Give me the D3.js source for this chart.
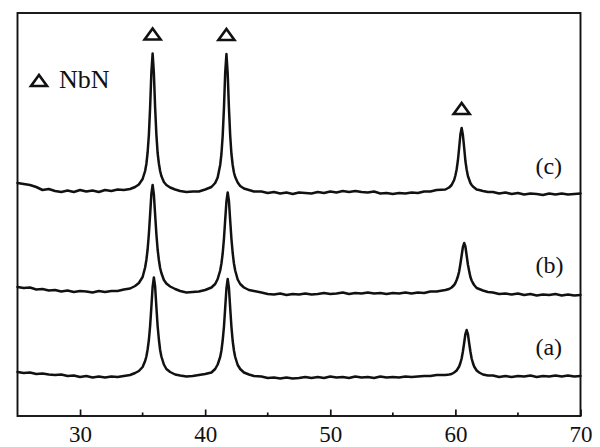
<!DOCTYPE html>
<html><head><meta charset="utf-8">
<script src="https://cdn.jsdelivr.net/npm/d3@7"></script>
<style>html,body{margin:0;padding:0;background:#fff;} svg{display:block;}</style>
</head><body>
<svg id="chart" width="600" height="447"></svg>
<script>
// 2θ (degrees) sampling grid
const twoTheta = [
  25,25.5,26,26.5,27,27.5,28,28.5,29,29.5,30,30.5,31,31.5,32,32.5,33,33.5,34,
  34.4,34.7,35.0,35.2,35.3,35.4,35.5,35.6,35.7,35.8,35.9,36.0,36.1,36.2,36.3,36.4,36.5,36.7,36.9,37.2,37.6,
  38,38.5,39,39.5,40,
  40.5,40.8,41.0,41.2,41.3,41.4,41.5,41.6,41.7,41.8,41.9,42.0,42.1,42.2,42.3,42.4,42.6,42.8,43.1,43.5,43.9,
  44.5,45,45.5,46,46.5,47,47.5,48,48.5,49,49.5,50,50.5,51,51.5,52,52.5,53,53.5,54,54.5,55,55.5,56,56.5,57,57.5,58,58.5,
  59.2,59.5,59.7,59.9,60.0,60.1,60.2,60.3,60.4,60.5,60.6,60.7,60.8,60.9,61.0,61.1,61.2,61.3,61.4,61.5,61.7,61.9,62.2,62.6,
  63,63.5,64,64.5,65,65.5,66,66.5,67,67.5,68,68.5,69,69.5,70
];
// Intensity (a.u., stacked) for each sample
const intensityA = [
  48,47,47.5,46,46.5,45.5,45,45.5,44,44.5,43,44,42.5,43.5,42.5,43.5,43,44,45,
  47,49,53,59,63.5,70.5,80,94,113,133,142.5,133.5,113,94,80.5,70,63.5,55.5,51,48,45.5,
  44.5,43.5,44,45,46,
  47.5,51,55.5,63,69.5,79.5,93,112,131.5,141,132,112,93,79,69.5,63,55,51,47.5,45.5,44,
  43.5,42,42.5,41.5,42.5,41.5,42,43,42,43,42,43.5,42.5,43,42,43.5,42.5,43,42,43.5,42.5,43,42.5,43.5,43,43.5,44,44,45,
  45,45.5,46,47.5,48.5,49.5,51.5,53.5,57,61.5,68.5,77,86,90,86,77,68.5,61.5,57,53.5,49.5,47.5,45.5,44.5,
  44.5,43,44,43,44,43.5,44.5,43,44,43.5,44.5,43.5,44.5,43.5,44
];
const intensityB = [
  133,132,132.5,130.5,131,129.5,130,128.5,129.5,128,129,128.5,127.5,129,128,129,129,130.5,131.5,
  134,137,143,152.5,160,170.5,186,205.5,226,235,225.5,205.5,186,170.5,160,152,147,140,136.5,133.5,131,
  129,127.5,128,128.5,130,
  132.5,136,141,149.5,156.5,166.5,181,200,218.5,227.5,219,199.5,181,167,156.5,149.5,140.5,136,132.5,130,129,
  127.5,126,125.5,126.5,125,126,125.5,126.5,125.5,126,127,126,126.5,127.5,126,127,126.5,127.5,126.5,127,126,127,126.5,127.5,126.5,127.5,127,128.5,128.5,
  130,131,132.5,135,137,140,143.5,148.5,156,164.5,173,177,173.5,164.5,155.5,149,143,139.5,137,135,132,131,129.5,128,
  127.5,126,126.5,125.5,126.5,125,126,124.5,125.5,125,126,124.5,125.5,124.5,125
];
const intensityC = [
  237,236,235,233,230,231,229,228,229.5,228,230,228.5,229.5,228,230,229,230.5,230,231,
  233,235.5,241,249,256,267.5,285,312.5,347.5,366.5,347,312.5,285.5,267,256.5,249,244,238,235,232.5,230.5,
  229,228,228.5,228.5,230.5,
  233,237,242.5,255,266,284,311.5,347,366,346.5,312,284.5,266,255,247.5,243,237.5,234,231.5,230,228.5,
  228.5,227,228,226.5,227.5,226,227.5,227,226.5,228,227,228.5,227.5,229,228,229,228,227.5,228.5,226.5,227,226,227,226.5,227.5,227,228.5,228.5,230,
  230.5,232.5,235,240,244.5,250.5,259.5,272,285.5,292,285,272.5,259,250.5,244,240.5,237,235,233.5,232.5,230.5,230,229,228,
  228,226.5,227.5,226,227,225.5,226.5,226,225,226.5,225.5,226.5,225.5,226,226.5
];
const seriesLabels = ["(a)", "(b)", "(c)"];
const labelTheta = 66.4;
const peakMarkers = [35.8, 41.7, 60.5];   // NbN reflections (Δ)
const legendLabel = "NbN";
const xTicks = [30, 40, 50, 60, 70];
const xMinorTicks = [35, 45, 55, 65];

const series = [intensityA, intensityB, intensityC];

const svg = d3.select("#chart");
const x = d3.scaleLinear().domain([25, 70]).range([17.5, 580.5]);
const y = d3.scaleLinear().domain([4, 407]).range([416, 13]);
const font = "'Liberation Serif','Times New Roman',serif";
const ink = "#111";

// curves
const line = d3.line().x((d, i) => x(twoTheta[i])).y(d => y(d)).curve(d3.curveLinear);
svg.append("g").selectAll("path").data(series).join("path")
  .attr("d", d => line(d))
  .attr("fill", "none").attr("stroke", ink).attr("stroke-width", 2.5)
  .attr("stroke-linejoin", "round").attr("stroke-linecap", "round");

// frame
svg.append("rect").attr("x", x(25)).attr("y", y(407)).attr("width", x(70) - x(25)).attr("height", y(4) - y(407))
  .attr("fill", "none").attr("stroke", ink).attr("stroke-width", 1.9);

// bottom axis: inward ticks
const axis = d3.axisBottom(x).tickValues(xTicks).tickSizeInner(-6.5).tickSizeOuter(0).tickFormat(d3.format("d"));
const gx = svg.append("g").attr("transform", `translate(0,${y(4)})`).call(axis);
gx.select(".domain").remove();
gx.selectAll(".tick line").attr("stroke", ink).attr("stroke-width", 1.7);
gx.selectAll(".tick text").attr("font-family", font).attr("font-size", 23).attr("fill", ink)
  .attr("y", 26).attr("dy", 0);
svg.append("g").selectAll("line").data(xMinorTicks).join("line")
  .attr("x1", d => x(d)).attr("x2", d => x(d)).attr("y1", y(4)).attr("y2", y(4) - 3.5)
  .attr("stroke", ink).attr("stroke-width", 1.7);

// triangle helper
function tri(cx, by) {
  return `M${cx - 8},${by} L${cx + 8},${by} L${cx},${by - 11} Z`;
}
// peak markers above curve (c)
const cTop = peakMarkers.map(p => intensityC[twoTheta.indexOf(p)]);
svg.append("g").selectAll("path").data(peakMarkers).join("path")
  .attr("d", (p, i) => tri(x(p), y(cTop[i]) - 14))
  .attr("fill", "#fff").attr("stroke", ink).attr("stroke-width", 2.6).attr("stroke-linejoin", "miter");

// legend
svg.append("path").attr("d", tri(39, 86)).attr("fill", "#fff").attr("stroke", ink).attr("stroke-width", 2.6);
svg.append("text").attr("x", 59).attr("y", 88).attr("font-family", font).attr("font-size", 26).attr("fill", ink).text(legendLabel);

// series labels
const labelIdx = twoTheta.indexOf(70);
const labelLift = [21, 22, 20];
svg.append("g").selectAll("text").data(series).join("text")
  .attr("x", x(labelTheta)).attr("y", (d, i) => y(d[labelIdx]) - labelLift[i])
  .attr("font-family", font).attr("font-size", 24).attr("fill", ink)
  .text((d, i) => seriesLabels[i]);
</script>
</body></html>
